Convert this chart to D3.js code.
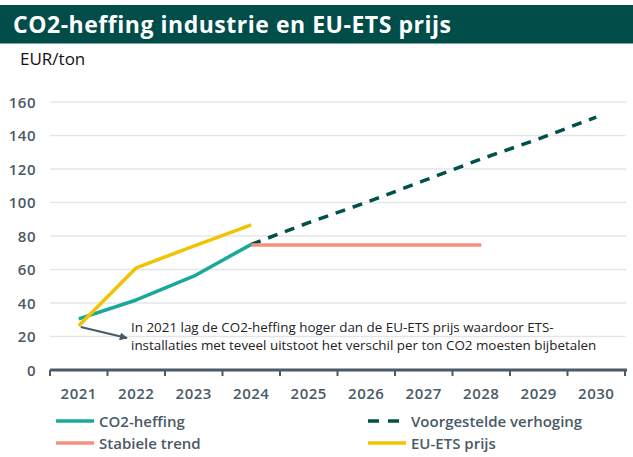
<!DOCTYPE html>
<html>
<head>
<meta charset="utf-8">
<script src="https://cdn.jsdelivr.net/npm/d3@7"></script>
<style>
  body { margin: 0; background: #fff; }
  svg { font-family: "Open Sans", Lato, sans-serif; }
</style>
</head>
<body>
<svg id="chart" width="633" height="457"></svg>
<script>
var years = [2021, 2022, 2023, 2024, 2025, 2026, 2027, 2028, 2029, 2030];
var yTicks = [0, 20, 40, 60, 80, 100, 120, 140, 160];

var heffing = [[2021, 30.5], [2022, 41.8], [2023, 56], [2024, 75]];
var verhoging = [[2024, 75], [2025, 88], [2026, 100], [2027, 113], [2028, 126], [2029, 138], [2030, 151]];
var stabiel = [[2024, 74.7], [2025, 74.7], [2026, 74.7], [2027, 74.7], [2028, 74.7]];
var ets = [[2021, 26.4], [2022, 61], [2023, 74], [2024, 86.7]];

var noteLines = [
    "In 2021 lag de CO2-heffing hoger dan de EU-ETS prijs waardoor ETS-",
    "installaties met teveel uitstoot het verschil per ton CO2 moesten bijbetalen"
];

var colHeffing = "#1aa898", colVerh = "#00504b", colStab = "#f4907c", colEts = "#f2c300",
    grey = "#4a5a66";

var svg = d3.select( "#chart" );

// title bar
svg.append( "rect" ).attr( "x", 0 ).attr( "y", 5 ).attr( "width", 633 ).attr( "height", 38.5 )
    .attr( "fill", "#004d4a" );
svg.append( "text" ).attr( "x", 13 ).attr( "y", 32.5 ).attr( "fill", "#fff" )
    .attr( "font-size", 23 ).attr( "font-weight", "bold" )
    .attr( "textLength", 438 ).attr( "lengthAdjust", "spacing" )
    .style( "font-variant-ligatures", "none" )
    .text( "CO2-heffing industrie en EU-ETS prijs" );
svg.append( "text" ).attr( "x", 20 ).attr( "y", 65 ).attr( "fill", "#111" )
    .attr( "font-size", 17 ).text( "EUR/ton" );

var scX = d3.scaleBand().domain( years ).range( [50, 625] ),
    scY = d3.scaleLinear().domain( [0, 160] ).range( [370, 102] );
var cx = d => scX( d ) + scX.bandwidth() / 2;

// grid
svg.append( "g" ).selectAll( "line" ).data( yTicks.slice(1) ).enter().append( "line" )
    .attr( "x1", 50 ).attr( "x2", 626 )
    .attr( "y1", d => scY(d) ).attr( "y2", d => scY(d) )
    .attr( "stroke", "#e3e6e8" ).attr( "stroke-width", 1.5 );

// y labels
svg.append( "g" ).selectAll( "text" ).data( yTicks ).enter().append( "text" )
    .attr( "x", 36 ).attr( "y", d => scY(d) + 5.5 ).attr( "text-anchor", "end" )
    .attr( "font-size", 15 ).attr( "font-weight", "600" ).attr( "fill", grey )
    .attr( "letter-spacing", 0.5 ).text( d => d );

// x axis
var xAxis = d3.axisBottom( scX ).tickSize( 0 ).tickPadding( 18 );
var gx = svg.append( "g" ).attr( "transform", "translate(0,370)" ).call( xAxis );
gx.select( ".domain" ).attr( "stroke", grey ).attr( "stroke-width", 3 ).attr( "d", "M50,0H627" );
gx.selectAll( "text" ).attr( "font-size", 15 ).attr( "font-weight", "600" )
    .attr( "fill", grey ).attr( "letter-spacing", 0.5 )
    .attr( "font-family", "'Open Sans', sans-serif" );
var bounds = years.map( d => scX(d) ).concat( [625] );
gx.selectAll( ".bnd" ).data( bounds ).enter().append( "line" ).attr( "class", "bnd" )
    .attr( "x1", d => d ).attr( "x2", d => d ).attr( "y1", 0 ).attr( "y2", 6 )
    .attr( "stroke", grey ).attr( "stroke-width", 2 );

// lines
var line = d3.line().x( d => cx(d[0]) ).y( d => scY(d[1]) );
function draw( data, color, dash ) {
    svg.append( "path" ).datum( data ).attr( "d", line )
        .attr( "fill", "none" ).attr( "stroke", color ).attr( "stroke-width", 3.5 )
        .attr( "stroke-dasharray", dash || null ).attr( "stroke-linejoin", "round" );
}
draw( verhoging, colVerh, "10,8" );
draw( stabiel, colStab );
draw( heffing, colHeffing );
draw( ets, colEts );

// annotation
svg.append( "defs" ).append( "marker" ).attr( "id", "arr" )
    .attr( "viewBox", "0 0 10 10" ).attr( "refX", 9 ).attr( "refY", 5 )
    .attr( "markerWidth", 4 ).attr( "markerHeight", 4 ).attr( "orient", "auto" )
    .append( "path" ).attr( "d", "M0,0L10,5L0,10z" ).attr( "fill", grey );
svg.append( "line" ).attr( "x1", cx(2021) + 2 ).attr( "y1", 327 )
    .attr( "x2", 127 ).attr( "y2", 338 )
    .attr( "stroke", grey ).attr( "stroke-width", 2 ).attr( "marker-end", "url(#arr)" );
svg.append( "g" ).selectAll( "text" ).data( noteLines ).enter().append( "text" )
    .attr( "x", 131 ).attr( "y", (d, i) => 332 + i * 18 )
    .attr( "font-size", 13.4 ).attr( "fill", "#222" )
    .style( "font-variant-ligatures", "none" ).text( d => d );

// legend
var legend = [
    ["CO2-heffing", colHeffing, null, 56, 421, 38],
    ["Voorgestelde verhoging", colVerh, "11,9", 368, 421, 31],
    ["Stabiele trend", colStab, null, 56, 443, 38],
    ["EU-ETS prijs", colEts, null, 368, 443, 38]
];
var lg = svg.append( "g" ).selectAll( "g" ).data( legend ).enter().append( "g" );
lg.append( "line" ).attr( "x1", d => d[3] ).attr( "x2", d => d[3] + d[5] )
    .attr( "y1", d => d[4] ).attr( "y2", d => d[4] )
    .attr( "stroke", d => d[1] ).attr( "stroke-width", 3.5 )
    .attr( "stroke-dasharray", d => d[2] );
lg.append( "text" ).attr( "x", d => d[3] + 43 ).attr( "y", d => d[4] + 5.5 )
    .attr( "font-size", 15 ).attr( "font-weight", "600" ).attr( "fill", grey )
    .style( "font-variant-ligatures", "none" ).text( d => d[0] );
</script>
</body>
</html>
